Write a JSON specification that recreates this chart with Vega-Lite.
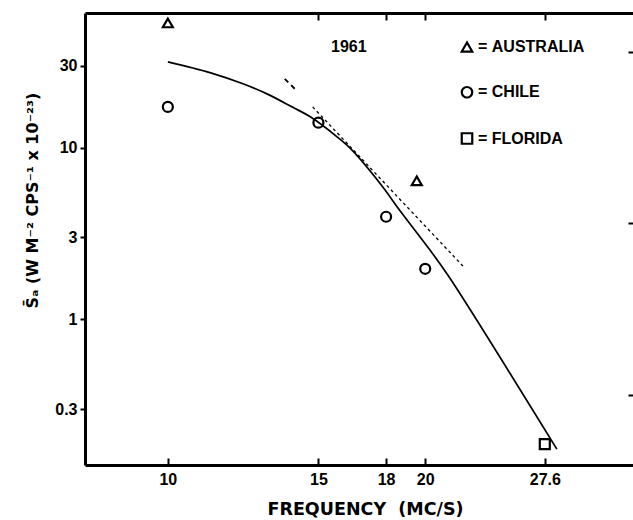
{
  "$schema": "https://vega.github.io/schema/vega-lite/v6.json",
  "autosize": {"type": "none"},
  "padding": {"left": 85, "top": 13, "right": 0, "bottom": 55},
  "width": 548,
  "height": 452,
  "background": "white",
  "config": {
    "view": {"stroke": null},
    "font": "Liberation Sans",
    "axis": {"grid": false, "domainColor": "black", "tickColor": "black", "labelColor": "black", "titleColor": "black", "labelFont": "Liberation Sans", "labelFontWeight": "bold", "titleFont": "DejaVu Sans", "titleFontWeight": "bold"}
  },
  "datasets": {
    "obs": [
      {"station": "AUSTRALIA", "f": 10, "s": 53.4},
      {"station": "AUSTRALIA", "f": 19.55, "s": 6.42},
      {"station": "CHILE", "f": 10, "s": 17.3},
      {"station": "CHILE", "f": 15, "s": 14.0},
      {"station": "CHILE", "f": 18, "s": 3.96},
      {"station": "CHILE", "f": 20, "s": 1.97},
      {"station": "FLORIDA", "f": 27.6, "s": 0.1875}
    ],
    "fit": [
      {"f": 10, "s": 31.68},
      {"f": 11.2, "s": 27.42},
      {"f": 12.24, "s": 23.6},
      {"f": 13.06, "s": 20.6},
      {"f": 14.0, "s": 17.2},
      {"f": 14.66, "s": 15.19},
      {"f": 15.76, "s": 11.61},
      {"f": 16.41, "s": 9.71},
      {"f": 17.84, "s": 5.91},
      {"f": 18.67, "s": 4.32},
      {"f": 20.25, "s": 2.54},
      {"f": 21.37, "s": 1.74},
      {"f": 28.51, "s": 0.175}
    ],
    "tangent": [
      {"f": 14.77, "s": 17.3},
      {"f": 22.25, "s": 1.99}
    ],
    "short": [
      {"f": 13.7, "s": 25.2},
      {"f": 14.08, "s": 22.0}
    ],
    "year": [
      {"label": "1961", "f": 16.28, "s": 38.7}
    ]
  },
  "layer": [
    {
      "data": {"name": "obs"},
      "mark": {"type": "point", "filled": false, "strokeWidth": 2.2, "color": "black", "size": 100, "opacity": 1},
      "encoding": {
        "x": {"field": "f", "type": "quantitative", "scale": {"type": "log", "domain": [8, 35], "nice": false},
          "axis": {"orient": "bottom", "values": [10, 15, 18, 20, 27.6], "format": "~g", "title": "FREQUENCY\u00a0\u00a0(MC/S)", "titleFontSize": 17.5, "labelFontSize": 16, "domainWidth": 3, "tickWidth": 2, "tickSize": -7, "labelPadding": 13, "titleX": 280, "titleY": 44, "titleBaseline": "middle", "titleAlign": "center"}},
        "y": {"field": "s", "type": "quantitative", "scale": {"type": "log", "domain": [0.1415, 61], "nice": false},
          "axis": {"orient": "left", "values": [0.3, 1, 3, 10, 30], "format": "~g", "title": "S̄ₐ (W M⁻² CPS⁻¹ x 10⁻²³)", "titleFontSize": 16, "labelFontSize": 16, "domainWidth": 3, "tickWidth": 2, "tickSize": 5, "labelPadding": 3, "titleX": -53, "titleY": 187, "titleAngle": 270, "titleAlign": "center", "titleBaseline": "middle"}},
        "shape": {"field": "station", "type": "nominal",
          "scale": {"domain": ["AUSTRALIA", "CHILE", "FLORIDA"], "range": ["triangle-up", "circle", "square"]},
          "legend": {"title": null, "orient": "none", "legendX": 374, "legendY": 26, "padding": 0, "rowPadding": 26.25, "symbolSize": 110, "symbolStrokeWidth": 2.2, "symbolStrokeColor": "black", "symbolFillColor": "white", "labelFontSize": 16, "labelFont": "Liberation Sans", "labelFontWeight": "bold", "labelColor": "black", "labelOffset": 3, "labelExpr": "'=\u00a0' + datum.label"}}
      }
    },
    {
      "data": {"name": "fit"},
      "mark": {"type": "line", "color": "black", "strokeWidth": 1.7, "interpolate": "catmull-rom"},
      "encoding": {
        "x": {"field": "f", "type": "quantitative", "scale": {"type": "log", "domain": [8, 35], "nice": false},
          "axis": {"orient": "top", "values": [15, 18, 20, 27.6], "labels": false, "title": null, "domainWidth": 3, "tickWidth": 2, "tickSize": -7}},
        "y": {"field": "s", "type": "quantitative", "scale": {"type": "log", "domain": [0.1415, 61], "nice": false},
          "axis": {"orient": "right", "values": [36.2, 3.62, 0.362], "labels": false, "title": null, "domain": false, "tickWidth": 2, "tickSize": -5}}
      }
    },
    {
      "data": {"name": "tangent"},
      "mark": {"type": "line", "color": "black", "strokeWidth": 1.3, "strokeDash": [3, 3]},
      "encoding": {
        "x": {"field": "f", "type": "quantitative", "axis": null},
        "y": {"field": "s", "type": "quantitative", "axis": null}
      }
    },
    {
      "data": {"name": "short"},
      "mark": {"type": "line", "color": "black", "strokeWidth": 1.8, "strokeDash": [5, 4]},
      "encoding": {
        "x": {"field": "f", "type": "quantitative", "axis": null},
        "y": {"field": "s", "type": "quantitative", "axis": null}
      }
    },
    {
      "data": {"name": "year"},
      "mark": {"type": "text", "color": "black", "fontSize": 16, "fontWeight": "bold", "font": "Liberation Sans", "align": "center", "baseline": "middle"},
      "encoding": {
        "x": {"field": "f", "type": "quantitative", "axis": null},
        "y": {"field": "s", "type": "quantitative", "axis": null},
        "text": {"field": "label"}
      }
    }
  ],
  "resolve": {"axis": {"x": "independent", "y": "independent"}}
}
